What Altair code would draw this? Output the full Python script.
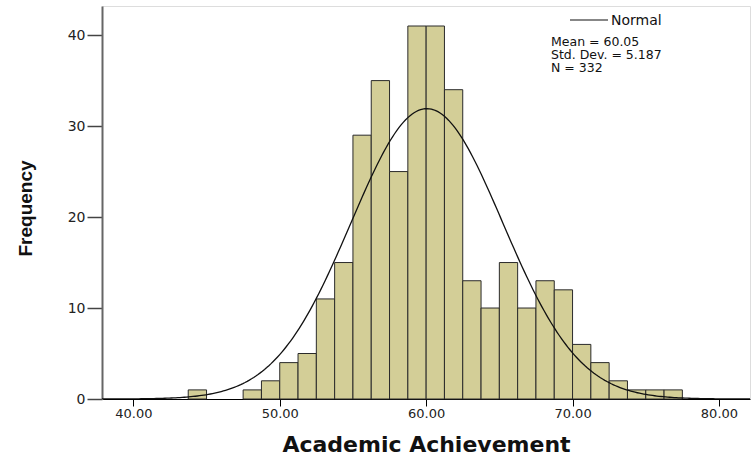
import altair as alt
import numpy as np
import pandas as pd

# Histogram of Academic Achievement scores (bin width 1.25)
bin_start = [43.75, 47.5, 48.75, 50.0, 51.25, 52.5, 53.75, 55.0, 56.25, 57.5,
             58.75, 60.0, 61.25, 62.5, 63.75, 65.0, 66.25, 67.5, 68.75, 70.0,
             71.25, 72.5, 73.75, 75.0, 76.25]
frequency = [1, 1, 2, 4, 5, 11, 15, 29, 35, 25,
             41, 41, 34, 13, 10, 15, 10, 13, 12, 6,
             4, 2, 1, 1, 1]
bin_width = 1.25

# Summary statistics shown in the legend
mean = 60.05
std_dev = 5.187
n_obs = 332

x_ticks = [40, 50, 60, 70, 80]
y_ticks = [0, 10, 20, 30, 40]
x_domain = [37.86, 82.12]
y_domain = [0, 43.2]

bars = pd.DataFrame({"start": bin_start, "count": frequency})
bars["end"] = bars["start"] + bin_width

# Normal curve scaled to counts: N * bin width * density
xs = np.linspace(x_domain[0], x_domain[1], 300)
ys = n_obs * bin_width * np.exp(-0.5 * ((xs - mean) / std_dev) ** 2) / (std_dev * np.sqrt(2 * np.pi))
curve = pd.DataFrame({"score": xs, "density": ys})

FONT = "DejaVu Sans"

x_scale = alt.Scale(domain=x_domain, nice=False, zero=False)
y_scale = alt.Scale(domain=y_domain, nice=False)

x_axis = alt.Axis(
    values=x_ticks, format=".2f", title="Academic Achievement",
    labelFont=FONT, labelFontSize=13, labelColor="#222", labelPadding=1,
    tickSize=7, tickColor="#000", domainColor="#000", domainWidth=1,
    titleFont=FONT, titleFontSize=22, titleFontWeight="bold", titleColor="#111",
    titleBaseline="alphabetic", titleY=52, grid=False,
)
y_axis = alt.Axis(
    values=y_ticks, title="Frequency",
    labelFont=FONT, labelFontSize=14, labelColor="#222", labelPadding=2,
    tickSize=15, tickColor="#444", tickWidth=1.5,
    domainColor="#666", domainWidth=2,
    titleFont="Liberation Sans", titleFontSize=19, titleFontWeight="bold",
    titleColor="#111", titleAngle=-90, titleBaseline="middle",
    titleX=-77, titleY=202, grid=False,
)

hist = alt.Chart(bars).mark_rect(
    fill="#d3ce97", stroke="#2a2a2a", strokeWidth=1
).encode(
    x=alt.X("start:Q", scale=x_scale, axis=x_axis),
    x2="end:Q",
    y=alt.Y("count:Q", scale=y_scale, axis=y_axis),
)

normal = alt.Chart(curve).mark_line(color="#111", strokeWidth=1.3, clip=True).encode(
    x=alt.X("score:Q", scale=x_scale),
    y=alt.Y("density:Q", scale=y_scale),
)

# Legend: line sample with label, then the summary statistics
one_row = pd.DataFrame({"k": [0]})
legend_line = alt.Chart(one_row).mark_rule(color="#111", strokeWidth=1.2).encode(
    x=alt.value(468), x2=alt.value(506), y=alt.value(14)
)
legend_label = alt.Chart(one_row).mark_text(
    font=FONT, fontSize=14, align="left", baseline="middle", color="#111"
).encode(x=alt.value(509), y=alt.value(15), text=alt.value("Normal"))

stats_lines = [f"Mean = {mean:.2f}", f"Std. Dev. = {std_dev:.3f}", f"N = {n_obs}"]
stat_layers = [
    alt.Chart(one_row).mark_text(
        font=FONT, fontSize=12.5, align="left", baseline="middle", color="#111",
    ).encode(x=alt.value(449), y=alt.value(36 + 13 * i), text=alt.value(line))
    for i, line in enumerate(stats_lines)
]

chart = alt.layer(hist, normal, legend_line, legend_label, *stat_layers).properties(
    width=648, height=393,
    autosize=alt.AutoSizeParams(type="none"),
    padding={"left": 102, "top": 6, "right": 2, "bottom": 60},
).configure_view(
    stroke="#8a8a8a", strokeWidth=1.5, fill="white"
).configure(background="white")

chart.save("out.html", embed_options={"renderer": "svg", "actions": False})
